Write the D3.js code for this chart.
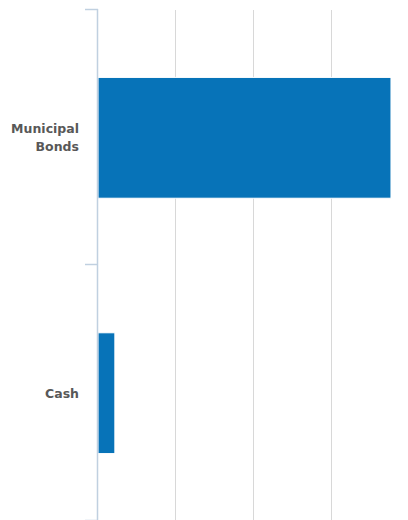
<!DOCTYPE html>
<html>
<head>
<meta charset="utf-8">
<script src="https://cdn.jsdelivr.net/npm/d3@7"></script>
<style>
  body { margin: 0; background: #fff; }
  svg { display: block; }
</style>
</head>
<body>
<div id="chart"></div>
<script>
// Data (percent of holdings)
var categories = ["Municipal Bonds", "Cash"];
var labelLines = [["Municipal", "Bonds"], ["Cash"]];
var values = [93.9, 5.4];
var gridTicks = [25, 50, 75];

var width = 408, height = 520;
var margin = { top: 10, left: 98 };

var svg = d3.select("#chart").append("svg")
    .attr("width", width)
    .attr("height", height);

// x range runs past the right edge, the chart is cut off there
var xScale = d3.scaleLinear()
    .domain([0, 100])
    .range([margin.left, 410]);

var yScale = d3.scaleBand()
    .domain(categories)
    .range([margin.top, 521])
    .paddingInner(0.527)
    .paddingOuter(0.264);

// vertical grid lines
svg.append("g")
   .selectAll("line")
   .data(gridTicks)
   .enter()
   .append("line")
   .attr("x1", d => Math.round(xScale(d)) - 0.5)
   .attr("x2", d => Math.round(xScale(d)) - 0.5)
   .attr("y1", margin.top)
   .attr("y2", height)
   .attr("stroke", "#d8d8d8")
   .attr("stroke-width", 1);

// bars
svg.selectAll(".bar")
   .data(values)
   .enter()
   .append("rect")
   .attr("class", "bar")
   .attr("x", xScale(0))
   .attr("y", (d, i) => yScale(categories[i]))
   .attr("width", d => xScale(d) - xScale(0))
   .attr("height", yScale.bandwidth())
   .attr("fill", "#0773b8")
   .attr("stroke", "#fff")
   .attr("stroke-width", 1);

// category axis: line plus tick marks between categories
var step = yScale.step();
var tickYs = [margin.top, margin.top + step, margin.top + 2 * step].map(Math.round);
var axis = svg.append("g");
axis.append("line")
    .attr("x1", xScale(0) - 0.5)
    .attr("x2", xScale(0) - 0.5)
    .attr("y1", margin.top - 1)
    .attr("y2", height)
    .attr("stroke", "#c0d0e0")
    .attr("stroke-width", 1.5);
axis.selectAll(".tick")
    .data(tickYs)
    .enter()
    .append("line")
    .attr("x1", 85)
    .attr("x2", xScale(0))
    .attr("y1", d => d - 0.5)
    .attr("y2", d => d - 0.5)
    .attr("stroke", "#c0d0e0")
    .attr("stroke-width", 1.5);

// category labels
var labels = svg.selectAll(".label")
    .data(categories)
    .enter()
    .append("text")
    .attr("class", "label")
    .attr("text-anchor", "end")
    .attr("font-family", "'DejaVu Sans', sans-serif")
    .attr("font-weight", "bold")
    .attr("font-size", "12.5px")
    .attr("fill", "#585858")
    .attr("y", d => yScale(d) + yScale.bandwidth() / 2);

labels.each(function(d, i) {
    var lines = labelLines[i];
    var t = d3.select(this);
    lines.forEach(function(line, j) {
        t.append("tspan")
         .attr("x", 79)
         .attr("dy", j === 0 ? ((-(lines.length - 1) * 18) / 2 + 4.5) + "px" : "18px")
         .text(line);
    });
});
</script>
</body>
</html>
